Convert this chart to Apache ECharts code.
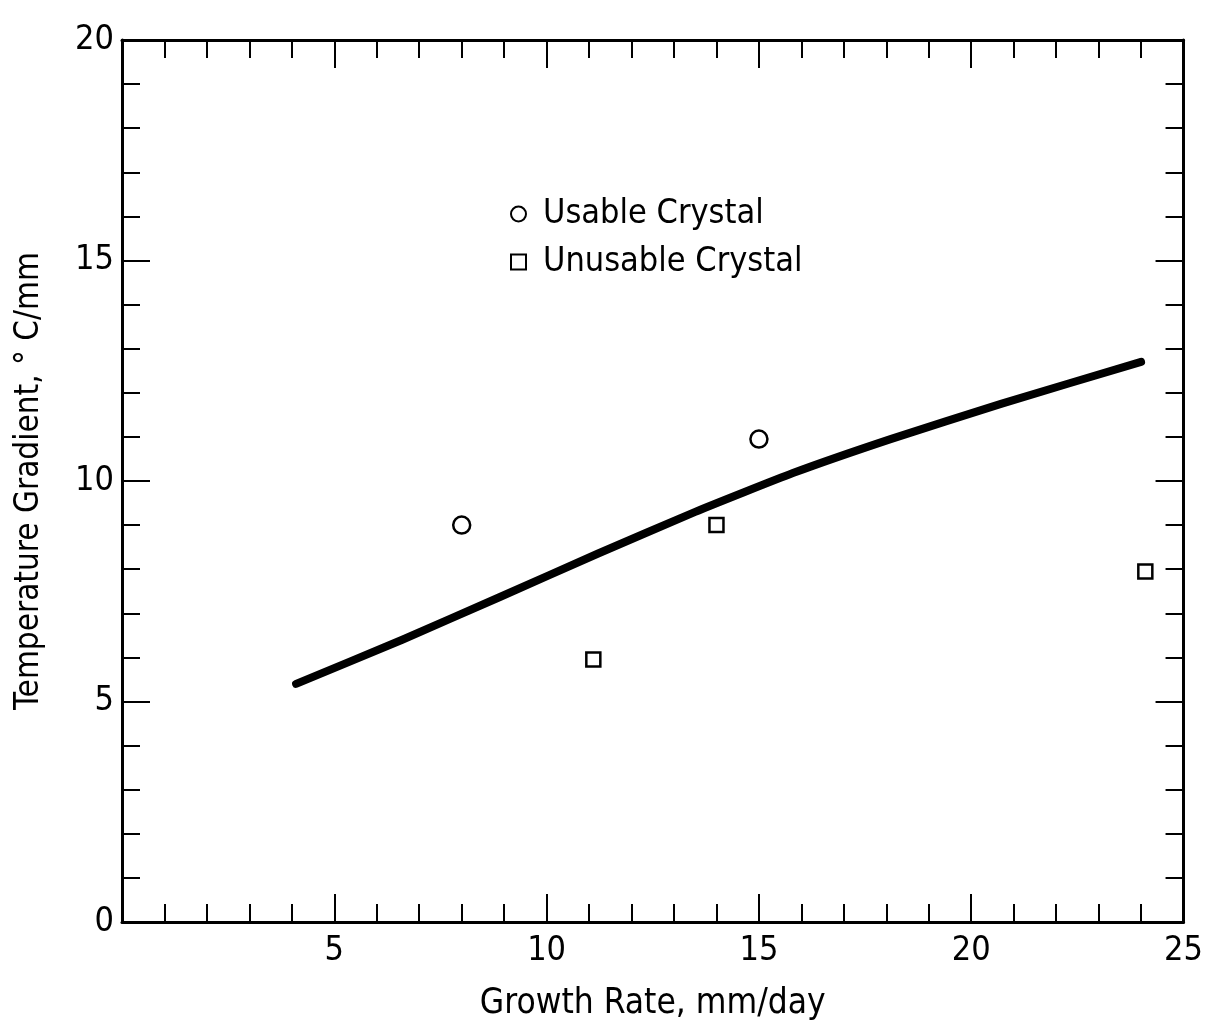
<!DOCTYPE html>
<html>
<head>
<meta charset="utf-8">
<script src="https://cdn.jsdelivr.net/npm/echarts@6/dist/echarts.min.js"></script>
<style>
html,body{margin:0;padding:0;background:#fff;}
#chart{width:1206px;height:1029px;}
</style>
</head>
<body>
<div id="chart"></div>
<script>
// Data
const usableX = [8.0, 15.0];
const usableY = [9.0, 10.95];
const unusableX = [11.1, 14.0, 24.1];
const unusableY = [5.95, 9.0, 7.95];
const curveX = [4.1, 6.6, 8.9, 11.2, 13.5, 15.8, 18.1, 20.7, 24.0];
const curveY = [5.4, 6.4, 7.37, 8.35, 9.3, 10.18, 10.95, 11.75, 12.7];
const xTicks = [5, 10, 15, 20, 25];
const yTicks = [0, 5, 10, 15, 20];

const FONT = '"Liberation Sans Narrow", "DejaVu Sans Condensed", "Noto Sans", sans-serif';
const INK = '#000';

const zip = (xs, ys) => xs.map((x, i) => [x, ys[i]]);

function axisBase(extra) {
  return Object.assign({
    type: 'value',
    interval: 5,
    axisLine: { show: true, onZero: false, lineStyle: { color: INK, width: 3 } },
    axisTick: { show: true, inside: true, length: 28, lineStyle: { color: INK, width: 2 } },
    minorTick: { show: true, splitNumber: 5, length: 18, lineStyle: { color: INK, width: 2 } },
    splitLine: { show: false },
    minorSplitLine: { show: false }
  }, extra);
}

const chart = echarts.init(document.getElementById('chart'), null, { renderer: 'canvas' });
chart.setOption({
  backgroundColor: '#fff',
  animation: false,
  textStyle: { fontFamily: FONT, color: INK },
  grid: { left: 122, right: 16, top: 40, bottom: 107 },
  legend: {
    data: ['Usable Crystal', 'Unusable Crystal'],
    orient: 'vertical',
    left: 505,
    top: 192,
    itemWidth: 15,
    itemHeight: 15,
    itemGap: 14,
    textStyle: { fontFamily: FONT, fontSize: 34, color: INK, padding: [0, 0, 0, 12] }
  },
  xAxis: [
    axisBase({
      min: 0, max: 25, position: 'bottom',
      name: 'Growth Rate, mm/day',
      nameLocation: 'middle', nameGap: 64,
      nameTextStyle: { fontFamily: FONT, fontSize: 35, color: INK },
      axisLabel: {
        fontFamily: FONT, fontSize: 34, color: INK, margin: 12,
        formatter: v => (xTicks.indexOf(v) >= 0 ? String(v) : '')
      }
    }),
    axisBase({ min: 0, max: 25, position: 'top', axisLabel: { show: false } })
  ],
  yAxis: [
    axisBase({
      min: 0, max: 20, position: 'left',
      name: 'Temperature Gradient, \u00B0 C/mm',
      nameLocation: 'middle', nameGap: 76, nameRotate: 90,
      nameTextStyle: { fontFamily: FONT, fontSize: 33, color: INK },
      axisLabel: {
        fontFamily: FONT, fontSize: 34, color: INK, margin: 8,
        formatter: v => (yTicks.indexOf(v) >= 0 ? String(v) : '')
      }
    }),
    axisBase({ min: 0, max: 20, position: 'right', axisLabel: { show: false } })
  ],
  series: [
    {
      name: 'Trend',
      type: 'line',
      data: zip(curveX, curveY),
      smooth: 0.15,
      showSymbol: false,
      symbol: 'none',
      lineStyle: { color: INK, width: 8, cap: 'round', join: 'round' },
      z: 2
    },
    {
      name: 'Usable Crystal',
      type: 'scatter',
      data: zip(usableX, usableY),
      symbol: 'circle',
      symbolSize: 17,
      itemStyle: { color: '#fff', borderColor: INK, borderWidth: 2.5, opacity: 1 },
      z: 3
    },
    {
      name: 'Unusable Crystal',
      type: 'scatter',
      data: zip(unusableX, unusableY),
      symbol: 'rect',
      symbolSize: 14,
      itemStyle: { color: '#fff', borderColor: INK, borderWidth: 2.5, opacity: 1 },
      z: 3
    }
  ]
});
</script>
</body>
</html>
